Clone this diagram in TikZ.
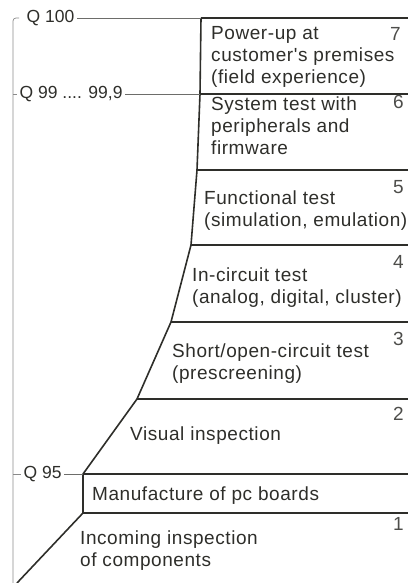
\documentclass[tikz,border=0pt]{standalone}
\usepackage{fontspec}
\setmainfont{Liberation Sans}
\newfontfamily\stagefont[LetterSpace=3]{Liberation Sans}
\definecolor{ink}{HTML}{2E2E2A}
\definecolor{axisgray}{HTML}{8A8A8A}

\begin{document}
\begin{tikzpicture}[
  x=1pt, y=-1pt,
  edge/.style={draw=ink, line width=1.6pt, line join=round},
  axisline/.style={draw=axisgray, line width=0.7pt},
  qline/.style={draw=ink!70, line width=0.6pt},
  stage/.style={anchor=base west, inner sep=0pt, align=left, text=ink,
    font=\stagefont\fontsize{19}{22}\selectfont},
  num/.style={anchor=base east, inner sep=0pt, text=ink!85,
    font=\stagefont\fontsize{19}{22}\selectfont},
  qlab/.style={anchor=west, inner sep=2.5pt, text=ink,
    font=\fontsize{17.5}{20}\selectfont}
]
\useasboundingbox (0,0) rectangle (407,583);

% =======================
% Staircase outline
% =======================
\coordinate (c7)  at (201, 18);
\coordinate (c6)  at (200, 94);
\coordinate (c5)  at (197,170);
\coordinate (c4)  at (191,245);
\coordinate (c3)  at (171,322);
\coordinate (c2)  at (137,399);
\coordinate (c95) at ( 83,474);
\coordinate (c1)  at ( 83,513);
\coordinate (cb)  at ( 17,583);
\coordinate (rim) at (409,  0);

\draw[edge] (c7)--(c6)--(c5)--(c4)--(c3)--(c2)--(c95)--(c1)--(cb);

% step borders
\foreach \c in {c7,c6,c5,c4,c3,c2,c95,c1}{
  \draw[edge] (\c)--(\c -| rim);
}

% =======================
% Stage texts and numbers
% (y = baseline of the last line)
% =======================
\node[stage] (stage7) at (211, 84) {Power-up at\\customer's premises\\(field experience)};
\node[stage] (stage6) at (211,154) {System test with\\peripherals and\\firmware};
\node[stage] (stage5) at (204,226) {Functional test\\(simulation, emulation)};
\node[stage] (stage4) at (192,303) {In-circuit test\\(analog, digital, cluster)};
\node[stage] (stage3) at (172,379) {Short/open-circuit test\\(prescreening)};
\node[stage] (stage2) at (130,440) {Visual inspection};
\node[stage] (pcb)    at ( 92,500) {Manufacture of pc boards};
\node[stage] (stage1) at ( 80,566) {Incoming inspection\\of components};

\node[num] (n7) at (401, 41) {7};
\node[num] (n6) at (404,109) {6};
\node[num] (n5) at (404,193) {5};
\node[num] (n4) at (404,268) {4};
\node[num] (n3) at (404,345) {3};
\node[num] (n2) at (404,420) {2};
\node[num] (n1) at (404,530) {1};

% =======================
% Quality axis
% =======================
\coordinate (a100) at (13, 18);
\coordinate (a99)  at (13, 94);
\coordinate (a95)  at (13,474);
\coordinate (abot) at (13,583);

\draw[axisline, rounded corners=3pt] (19,18) -- (a100) -- (abot);

\node[qlab] (q100) at (24, 18) {Q 100};
\node[qlab] (q99)  at (17, 94) {Q 99 .... 99,9};
\node[qlab] (q95)  at (21,474) {Q 95};

\draw[axisline] (a99)--(q99.west);
\draw[axisline] (a95)--(q95.west);

\draw[qline] (q100.east)--(c7);
\draw[qline] (q99.east)--(c6);
\draw[qline] (q95.east)--(c95);

\end{tikzpicture}
\end{document}
